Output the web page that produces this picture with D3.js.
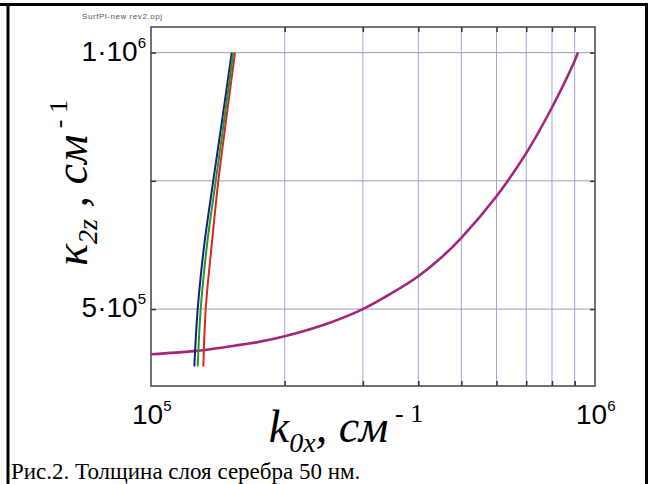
<!DOCTYPE html>
<html>
<head>
<meta charset="utf-8">
<script src="https://cdn.jsdelivr.net/npm/d3@7/dist/d3.min.js"></script>
<style>
  body { margin: 0; background: #fff; }
  text { font-family: "Liberation Sans", Arial, sans-serif; }
  .serif { font-family: "Liberation Serif", "Times New Roman", serif; }
</style>
</head>
<body>
<svg id="chart" width="648" height="484"></svg>
<script>
// values: k0x (cm^-1) on x, kappa_2z (cm^-1) on y
const magentaK = [1.0e5, 1.25e5, 1.5e5, 1.75e5, 2.0e5, 2.5e5, 3.0e5, 3.5e5, 4.0e5, 4.5e5, 5.0e5, 6.0e5, 7.0e5, 8.0e5, 9.0e5, 9.15e5];
const magentaKappa = [4.12e5, 4.18e5, 4.27e5, 4.36e5, 4.47e5, 4.72e5, 5.0e5, 5.32e5, 5.64e5, 6.0e5, 6.39e5, 7.2e5, 8.04e5, 8.93e5, 9.84e5, 1.0e6];

const steepKappa = [3.88e5, 5.0e5, 6.25e5, 7.5e5, 8.72e5, 1.0e6];
const blueK = [1.252e5, 1.274e5, 1.318e5, 1.381e5, 1.448e5, 1.520e5];
const greenK = [1.274e5, 1.294e5, 1.337e5, 1.399e5, 1.463e5, 1.532e5];
const redK = [1.312e5, 1.328e5, 1.370e5, 1.418e5, 1.478e5, 1.546e5];

const xDomain = [1e5, 1e6];
const yDomain = [3.5e5, 1.05e6];
const xGridVals = [2e5, 3e5, 4e5, 5e5, 6e5, 7e5, 8e5, 9e5];
const yGridVals = [5e5, 7.5e5, 1e6];
const yLabelVals = [5e5, 1e6];
const yLabelBase = ["5·10", "1·10"];
const yLabelExp = ["5", "6"];
const xLabelVals = [1e5, 1e6];
const xLabelExp = ["5", "6"];

const pLeft = 151, pRight = 595, pTop = 27, pBottom = 386;

const svg = d3.select('#chart');

const x = d3.scaleLog().domain(xDomain).range([pLeft, pRight]);
const y = d3.scaleLinear().domain(yDomain).range([pBottom, pTop]);

// page frame
svg.append('line').attr('x1', 0).attr('x2', 648).attr('y1', 4.5).attr('y2', 4.5)
    .attr('stroke', '#000').attr('stroke-width', 3);
svg.append('line').attr('x1', 8).attr('x2', 8).attr('y1', 3).attr('y2', 484)
    .attr('stroke', '#000').attr('stroke-width', 3);
svg.append('line').attr('x1', 646.5).attr('x2', 646.5).attr('y1', 3).attr('y2', 484)
    .attr('stroke', '#000').attr('stroke-width', 3);

// file name
svg.append('text')
    .attr('x', 82).attr('y', 19)
    .attr('font-size', 8)
    .attr('fill', '#555')
    .attr('textLength', 80)
    .text('SurfPl-new rev2.opj');

// grid
svg.append('g')
    .selectAll('line')
    .data(xGridVals)
    .enter()
    .append('line')
    .attr('x1', d => x(d)).attr('x2', d => x(d))
    .attr('y1', pTop).attr('y2', pBottom)
    .attr('stroke', '#a3a3d6').attr('stroke-width', 1);

svg.append('g')
    .selectAll('line')
    .data(yGridVals)
    .enter()
    .append('line')
    .attr('x1', pLeft).attr('x2', pRight)
    .attr('y1', d => y(d)).attr('y2', d => y(d))
    .attr('stroke', '#9b9bc4').attr('stroke-width', 1);

// axes with inward ticks
const tickLen = 5;
svg.append('g').attr('transform', `translate(0,${pBottom})`)
    .call(d3.axisBottom(x).tickValues(xGridVals).tickSize(-tickLen).tickFormat(''))
    .call(g => g.select('.domain').remove());
svg.append('g').attr('transform', `translate(0,${pTop})`)
    .call(d3.axisTop(x).tickValues(xGridVals).tickSize(-tickLen).tickFormat(''))
    .call(g => g.select('.domain').remove());
svg.append('g').attr('transform', `translate(${pLeft},0)`)
    .call(d3.axisLeft(y).tickValues(yGridVals).tickSize(-tickLen).tickFormat(''))
    .call(g => g.select('.domain').remove());
svg.append('g').attr('transform', `translate(${pRight},0)`)
    .call(d3.axisRight(y).tickValues(yGridVals).tickSize(-tickLen).tickFormat(''))
    .call(g => g.select('.domain').remove());
svg.selectAll('.tick line').attr('stroke', '#333').attr('stroke-width', 1.5);

svg.append('rect')
    .attr('x', pLeft).attr('y', pTop)
    .attr('width', pRight - pLeft).attr('height', pBottom - pTop)
    .attr('fill', 'none').attr('stroke', '#444').attr('stroke-width', 1.5);

// curves
const lineK = d3.line()
    .x(d => x(d[0]))
    .y(d => y(d[1]))
    .curve(d3.curveCatmullRom);

const series = [
    { k: magentaK, kappa: magentaKappa, color: '#a3267c', w: 2.6 },
    { k: redK, kappa: steepKappa, color: '#e3231c', w: 2 },
    { k: blueK, kappa: steepKappa, color: '#1c1c86', w: 2 },
    { k: greenK, kappa: steepKappa, color: '#1f9a2a', w: 2 }
];

svg.append('g')
    .selectAll('path')
    .data(series)
    .enter()
    .append('path')
    .attr('d', s => lineK(s.k.map((v, i) => [v, s.kappa[i]])))
    .attr('fill', 'none')
    .attr('stroke', s => s.color)
    .attr('stroke-width', s => s.w);

// tick labels
const yLab = svg.append('g')
    .selectAll('text')
    .data(yLabelVals)
    .enter()
    .append('text')
    .attr('x', 146)
    .attr('y', d => y(d) + 8)
    .attr('text-anchor', 'end')
    .attr('font-size', 28);
yLab.append('tspan').text((d, i) => yLabelBase[i]);
yLab.append('tspan').attr('font-size', 15).attr('dy', -13).text((d, i) => yLabelExp[i]);

const xLab = svg.append('g')
    .selectAll('text')
    .data(xLabelVals)
    .enter()
    .append('text')
    .attr('x', d => x(d) - 19)
    .attr('y', 424)
    .attr('font-size', 28);
xLab.append('tspan').text('10');
xLab.append('tspan').attr('font-size', 15).attr('dy', -13).text((d, i) => xLabelExp[i]);

// axis titles
const xt = svg.append('text')
    .attr('class', 'serif')
    .attr('x', 346).attr('y', 442)
    .attr('text-anchor', 'middle')
    .attr('font-size', 46)
    .attr('font-style', 'italic');
xt.append('tspan').text('k');
xt.append('tspan').attr('font-size', 28).attr('dy', 10).text('0x');
xt.append('tspan').attr('dy', -10).text(', см');
xt.append('tspan').attr('font-size', 26).attr('font-style', 'normal').attr('dy', -20).text(' - 1');

const yt = svg.append('text')
    .attr('class', 'serif')
    .attr('transform', 'translate(87,183) rotate(-90)')
    .attr('text-anchor', 'middle')
    .attr('font-size', 46)
    .attr('font-style', 'italic');
yt.append('tspan').text('κ');
yt.append('tspan').attr('font-size', 28).attr('dy', 10).text('2z');
yt.append('tspan').attr('dy', -10).text(' , см');
yt.append('tspan').attr('font-size', 26).attr('font-style', 'normal').attr('dy', -20).text(' - 1');

// caption
svg.append('text')
    .attr('class', 'serif')
    .attr('x', 11).attr('y', 479)
    .attr('font-size', 23)
    .text('Рис.2. Толщина слоя серебра 50 нм.');
</script>
</body>
</html>
